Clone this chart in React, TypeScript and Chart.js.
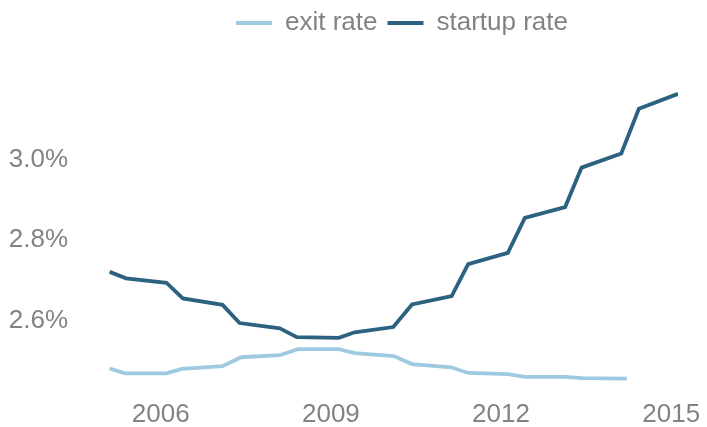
import React, { useEffect, useRef } from "react";
import { Chart, registerables } from "chart.js";

Chart.register(...registerables);

const seriesNames = ["exit rate", "startup rate"];

const exitYears = [2005.10, 2005.37, 2006.10, 2006.37, 2007.09, 2007.42, 2008.10, 2008.42, 2009.14, 2009.42, 2010.11, 2010.43, 2011.12, 2011.42, 2012.12, 2012.42, 2013.13, 2013.43, 2014.22];
const exitRate = [2.481, 2.469, 2.469, 2.480, 2.487, 2.509, 2.514, 2.529, 2.529, 2.519, 2.512, 2.492, 2.484, 2.470, 2.467, 2.460, 2.460, 2.457, 2.456];

const startupYears = [2005.10, 2005.39, 2006.10, 2006.39, 2007.09, 2007.39, 2008.10, 2008.40, 2009.14, 2009.42, 2010.10, 2010.43, 2011.13, 2011.42, 2012.12, 2012.42, 2013.13, 2013.42, 2014.12, 2014.43, 2015.12];
const startupRate = [2.721, 2.705, 2.694, 2.655, 2.639, 2.594, 2.581, 2.559, 2.557, 2.571, 2.584, 2.640, 2.661, 2.740, 2.768, 2.855, 2.882, 2.980, 3.015, 3.126, 3.163];

const xTicks = [2006, 2009, 2012, 2015];
const yTicks = [2.6, 2.8, 3.0];

const colors = ["#9ecae1", "#2c6180"];
const textColor = "#838383";
const fontFamily = "'Liberation Sans', Arial, Helvetica, sans-serif";

export default function App() {
  const canvasRef = useRef<HTMLCanvasElement | null>(null);

  useEffect(() => {
    if (!canvasRef.current) return;
    const legendPatch = {
      id: "legendPatch",
      beforeInit(chart: any) {
        const legend = chart.legend;
        if (!legend) return;
        const origFit = legend.fit;
        legend.fit = function () {
          origFit.call(this);
          this.height = 79;
        };
        const origDraw = legend.draw;
        legend.draw = function () {
          const ctx = this.ctx;
          ctx.save();
          ctx.translate(63, 0);
          origDraw.call(this);
          ctx.restore();
        };
      },
    };
    const chart = new Chart(canvasRef.current, {
      type: "line",
      data: {
        datasets: [
          {
            label: seriesNames[0],
            data: exitYears.map((x, i) => ({ x, y: exitRate[i] })),
            borderColor: colors[0],
            backgroundColor: colors[0],
            borderWidth: 3.8,
            pointRadius: 0,
            tension: 0,
          },
          {
            label: seriesNames[1],
            data: startupYears.map((x, i) => ({ x, y: startupRate[i] })),
            borderColor: colors[1],
            backgroundColor: colors[1],
            borderWidth: 3.8,
            pointRadius: 0,
            tension: 0,
          },
        ],
      },
      options: {
        animation: false,
        responsive: true,
        maintainAspectRatio: false,
        layout: { padding: { left: 0, right: 29, top: 0, bottom: 0 } },
        font: { family: fontFamily, size: 26 },
        plugins: {
          tooltip: { enabled: false },
          legend: {
            position: "top",
            labels: {
              color: textColor,
              font: { family: fontFamily, size: 26 },
              boxWidth: 36,
              boxHeight: 4,
              padding: 10,
              generateLabels: (c: any) =>
                (Chart.defaults.plugins.legend.labels as any).generateLabels(c).map((l: any) => ({
                  ...l,
                  lineWidth: 0,
                  fillStyle: l.strokeStyle,
                })),
            },
          },
        },
        scales: {
          x: {
            type: "linear",
            min: 2005,
            max: 2015.12,
            grid: { display: false, drawTicks: false },
            border: { display: false },
            afterBuildTicks: (scale: any) => {
              scale.ticks = xTicks.map((v) => ({ value: v }));
            },
            afterFit: (scale: any) => {
              scale.height = 46;
              scale.paddingLeft = 0;
              scale.paddingRight = 0;
            },
            ticks: {
              color: textColor,
              font: { family: fontFamily, size: 26 },
              padding: 18,
              maxRotation: 0,
              autoSkip: false,
              callback: (v: any) => String(v),
            },
          },
          y: {
            type: "linear",
            min: 2.45,
            max: 3.2,
            grid: { display: false, drawTicks: false },
            border: { display: false },
            afterBuildTicks: (scale: any) => {
              scale.ticks = yTicks.map((v) => ({ value: v }));
            },
            afterFit: (scale: any) => {
              scale.width = 104;
              scale.paddingTop = 0;
              scale.paddingBottom = 0;
            },
            ticks: {
              color: textColor,
              font: { family: fontFamily, size: 26 },
              padding: 36,
              callback: (v: any) => Number(v).toFixed(1) + "%",
            },
          },
        },
      },
      plugins: [legendPatch],
    } as any);
    return () => chart.destroy();
  }, []);

  return (
    <div style={{ position: "fixed", left: 0, top: 0, width: 707, height: 427 }}>
      <canvas ref={canvasRef} />
    </div>
  );
}
